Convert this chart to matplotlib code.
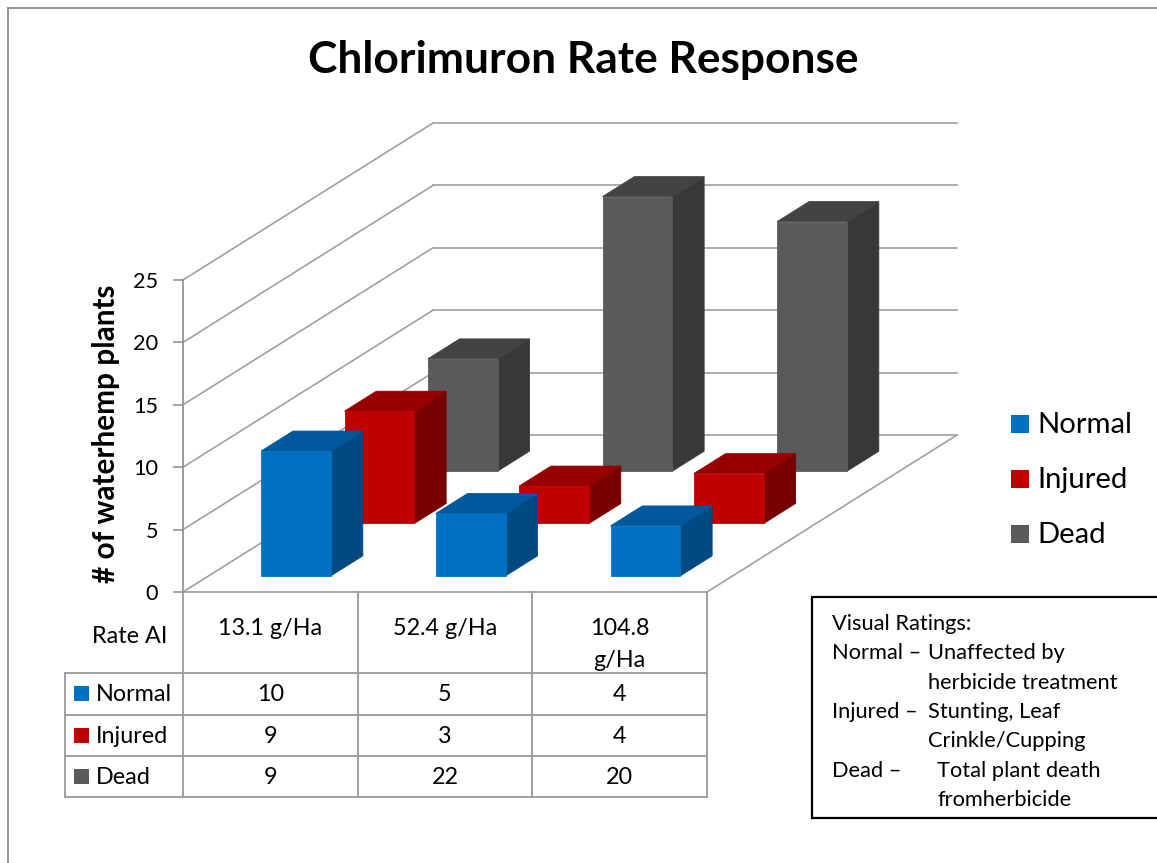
import matplotlib
matplotlib.use('Agg')
import matplotlib.pyplot as plt
from matplotlib.patches import Polygon, Rectangle

# ---------------- data ----------------
categories = ['13.1 g/Ha', '52.4 g/Ha', '104.8\ng/Ha']
series = ['Normal', 'Injured', 'Dead']
normal = [10, 5, 4]
injured = [9, 3, 4]
dead = [9, 22, 20]
yticks = [0, 5, 10, 15, 20, 25]
title = 'Chlorimuron Rate Response'
ylabel = '# of waterhemp plants'
table_header = 'Rate AI'
note_lines = [
    ('Visual Ratings:', '', 0),
    ('Normal \u2013', 'Unaffected by', 928),
    ('', 'herbicide treatment', 928),
    ('Injured \u2013', 'Stunting, Leaf', 928),
    ('', 'Crinkle/Cupping', 928),
    ('Dead \u2013', 'Total plant death', 937),
    ('', 'fromherbicide', 937),
]

values = [normal, injured, dead]
front_c = ['#0070C0', '#C00000', '#5A5A5A']
top_c = ['#00589C', '#980000', '#434343']
side_c = ['#004A84', '#7A0000', '#383838']

plt.rcParams['font.family'] = ['Lato', 'DejaVu Sans']

W, H = 1157, 863
fig = plt.figure(figsize=(W / 100, H / 100), dpi=100)
fig.patch.set_facecolor('white')

# overlay axes in pixel coordinates
ov = fig.add_axes([0, 0, 1, 1])
ov.set_xlim(0, W)
ov.set_ylim(H, 0)
ov.axis('off')

renderer = fig.canvas.get_renderer()


def fitsize(sample, target_w, weight='normal', base=20.0):
    t = fig.text(0, 0, sample, fontsize=base, fontweight=weight)
    w = t.get_window_extent(renderer).width
    t.remove()
    return base * target_w / w


fs_title = fitsize(title, 550, 'bold')
fs_ylabel = fitsize(ylabel, 298, 'bold')
fs_tick = fitsize('25', 25)
fs_table = fitsize('13.1 g/Ha', 104)
fs_leg = fitsize('Normal', 95)
fs_note = fitsize('Visual Ratings:', 140)

# chart geometry (pixels)
X0, Y0, XW, YH = 183, 592, 524, 312
ncat = len(categories)
ax = fig.add_axes([X0 / W, (H - Y0) / H, XW / W, YH / H])
ax.set_xlim(0, ncat)
ax.set_ylim(0, 25)
ax.patch.set_alpha(0)
for s in ['top', 'right']:
    ax.spines[s].set_visible(False)
ax.spines['left'].set_color('#8C8C8C')
ax.spines['bottom'].set_color('#999999')
ax.spines['left'].set_linewidth(1.2)
ax.spines['bottom'].set_linewidth(1.2)
ax.set_xticks([])
ax.set_yticks(yticks)
ax.tick_params(axis='y', length=7, width=1.1, color='#8C8C8C', pad=11,
               labelsize=fs_tick)

# depth vector in data units
DX = 250 / (XW / ncat)
DY = 157 / (YH / 25)
gc = '#A0A0A0'
for v in yticks:
    ax.plot([0, DX], [v, v + DY], color=gc, lw=1.2, clip_on=False, zorder=1)
    ax.plot([DX, ncat + DX], [v + DY, v + DY], color=gc, lw=1.2, clip_on=False, zorder=1)
ax.plot([ncat, ncat + DX], [0, DY], color=gc, lw=1.2, clip_on=False, zorder=1)

BW = 0.4
BD = 0.127
nser = len(series)
z = 5
for r in reversed(range(nser)):
    f0 = (r + 0.5) / nser - BD / 2
    f1 = f0 + BD
    for c in range(ncat):
        v = values[r][c]
        x0 = c + 0.5 - BW / 2
        x1 = x0 + BW
        ox0, oy0 = f0 * DX, f0 * DY
        ox1, oy1 = f1 * DX, f1 * DY
        frontp = [(x0 + ox0, oy0), (x1 + ox0, oy0), (x1 + ox0, oy0 + v), (x0 + ox0, oy0 + v)]
        sidep = [(x1 + ox0, oy0), (x1 + ox1, oy1), (x1 + ox1, oy1 + v), (x1 + ox0, oy0 + v)]
        topp = [(x0 + ox0, oy0 + v), (x1 + ox0, oy0 + v), (x1 + ox1, oy1 + v), (x0 + ox1, oy1 + v)]
        for pts, col in [(sidep, side_c[r]), (topp, top_c[r]), (frontp, front_c[r])]:
            ax.add_patch(Polygon(pts, closed=True, facecolor=col, edgecolor=col,
                                 lw=0.6, clip_on=False, zorder=z))
        z += 1

# title and y label
ov.text(583, 73, title, fontsize=fs_title, fontweight='bold', ha='center', va='baseline')
ov.text(115, 434, ylabel, fontsize=fs_ylabel, fontweight='bold', rotation=90,
        rotation_mode='anchor', ha='center', va='baseline')

# data table
tc = '#999999'
CW = XW / ncat
edges = [X0 + CW * i for i in range(ncat + 1)]
row_lines = [673, 714.5, 756, 797]
for e in edges:
    ov.plot([e, e], [Y0, 797], color=tc, lw=1.3)
ov.plot([65, 65], [673, 797], color=tc, lw=1.3)
for yl in row_lines:
    ov.plot([65, edges[-1]], [yl, yl], color=tc, lw=1.3)
ov.text(167, 643, table_header, fontsize=fs_table, ha='right', va='baseline')
for c, lab in enumerate(categories):
    cx = X0 + CW * (c + 0.5)
    for i, line in enumerate(lab.split('\n')):
        ov.text(cx, 635 + 32 * i, line, fontsize=fs_table, ha='center', va='baseline')
for r, name in enumerate(series):
    ytop = row_lines[r]
    ov.add_patch(Rectangle((74, ytop + 13), 15, 15, facecolor=front_c[r], edgecolor='none'))
    ov.text(96, ytop + 28, name, fontsize=fs_table, ha='left', va='baseline')
    for c in range(ncat):
        cx = X0 + CW * (c + 0.5)
        ov.text(cx, ytop + 28, str(values[r][c]), fontsize=fs_table, ha='center', va='baseline')

# legend
for r, name in enumerate(series):
    cy = 424 + 55 * r
    ov.add_patch(Rectangle((1011, cy - 9), 18, 18, facecolor=front_c[r], edgecolor='none'))
    ov.text(1037, cy + 9, name, fontsize=fs_leg, ha='left', va='baseline')

# note box
ov.add_patch(Rectangle((812, 597), 400, 221, facecolor='white', edgecolor='black', lw=1.6))
for i, (a, b, bx) in enumerate(note_lines):
    yb = 630 + 29.3 * i
    if a:
        ov.text(832, yb, a, fontsize=fs_note, ha='left', va='baseline')
    if b:
        ov.text(bx, yb, b, fontsize=fs_note, ha='left', va='baseline')

# outer chart border
ov.plot([8, 8], [8, H + 5], color='#8C8C8C', lw=1.3, clip_on=False)
ov.plot([8, W + 5], [8, 8], color='#8C8C8C', lw=1.3, clip_on=False)

fig.savefig('out.png', dpi=100, facecolor='white')
